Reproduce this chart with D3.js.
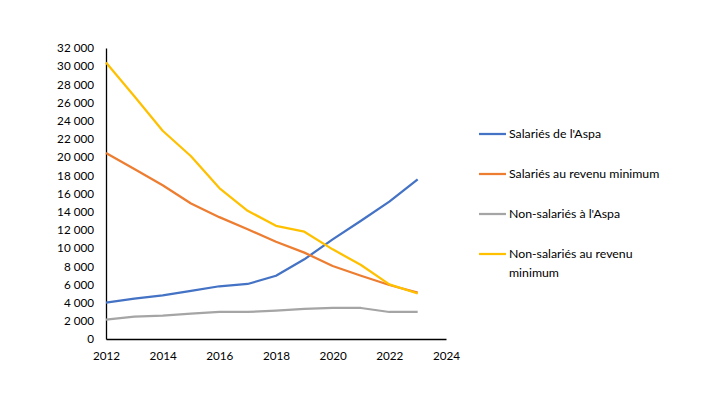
<!DOCTYPE html>
<html><head><meta charset="utf-8">
<script src="https://cdn.jsdelivr.net/npm/d3@7"></script>
<style>body{margin:0;background:#fff;} text{font-family:Lato, "Open Sans", sans-serif;}</style>
</head><body><svg id="c" width="711" height="394"></svg>
<script>
const years = [2012,2013,2014,2015,2016,2017,2018,2019,2020,2021,2022,2023];
const salariesAspa = [4000,4430,4800,5280,5800,6050,6960,8760,10960,13000,15100,17560];
const salariesRevMin = [20450,18700,16900,14900,13400,12060,10700,9500,8030,6960,5940,5100];
const nonSalariesAspa = [2120,2450,2560,2780,2970,2970,3110,3300,3410,3410,2970,2970];
const nonSalariesRevMin = [30400,26700,22900,20100,16600,14100,12450,11800,9860,8140,6000,5000];
const seriesNames = ["Salariés de l'Aspa","Salariés au revenu minimum","Non-salariés à l'Aspa","Non-salariés au revenu minimum"];
const colors = ["#4472C4","#ED7D31","#A5A5A5","#FFC000"];
const yTicks = d3.range(0,32001,2000);
const xTicks = [2012,2014,2016,2018,2020,2022,2024];

const svg = d3.select("#c");
const x = d3.scaleLinear().domain([2012,2024]).range([106,446]);
const y = d3.scaleLinear().domain([0,32000]).range([339,48]);
const loc = d3.formatLocale({decimal:",",thousands:"\u00a0",grouping:[3],currency:["","€"]});
const fmt = loc.format(",d");

const yAxis = d3.axisLeft(y).tickValues(yTicks).tickFormat(fmt).tickSize(0).tickPadding(12);
const gy = svg.append("g").attr("transform","translate(106,0)").call(yAxis);
gy.select(".domain").attr("stroke","#000").attr("stroke-width",1.3);
gy.selectAll("text").attr("font-size",11.7).attr("fill","#000").style("font-family","Lato, sans-serif");

const xAxis = d3.axisBottom(x).tickValues(xTicks).tickFormat(d3.format("d")).tickSize(0).tickPadding(13);
const gx = svg.append("g").attr("transform","translate(0,339)").call(xAxis);
gx.select(".domain").attr("stroke","#000").attr("stroke-width",1.3);
gx.selectAll("text").attr("font-size",11.7).attr("fill","#000").style("font-family","Lato, sans-serif");

const data = [salariesAspa, salariesRevMin, nonSalariesAspa, nonSalariesRevMin];
const line = d3.line().x((d,i)=>x(years[i])).y(d=>y(d));
data.forEach((s,i)=>{
  svg.append("path").datum(s).attr("d",line).attr("fill","none")
    .attr("stroke",colors[i]).attr("stroke-width",2.25).attr("stroke-linejoin","round");
});

const legY = [134,174,214,254];
const lg = svg.append("g");
seriesNames.forEach((n,i)=>{
  lg.append("line").attr("x1",479).attr("x2",506).attr("y1",legY[i]).attr("y2",legY[i])
    .attr("stroke",colors[i]).attr("stroke-width",2.25);
  const t = lg.append("text").attr("x",509).attr("y",legY[i]+4).attr("font-size",12.3).attr("fill","#000");
  if(i===3){
    t.append("tspan").attr("x",509).text("Non-salariés au revenu");
    t.append("tspan").attr("x",509).attr("dy",18.7).text("minimum");
  } else t.text(n);
});
</script></body></html>
